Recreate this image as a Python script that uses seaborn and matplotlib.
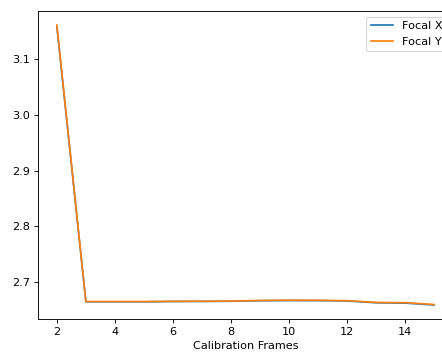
import matplotlib
matplotlib.use("Agg")
import matplotlib.pyplot as plt
import seaborn as sns

# Focal length estimates per number of calibration frames
frames = [2, 3, 4, 5, 6, 7, 8, 9, 10, 11, 12, 13, 14, 15]
focal_x = [3.158, 2.6645, 2.6645, 2.6645, 2.6650, 2.6652, 2.6655, 2.6665,
           2.6668, 2.6667, 2.6660, 2.6628, 2.6622, 2.6588]
focal_y = [3.161, 2.6650, 2.6650, 2.6650, 2.6655, 2.6656, 2.6658, 2.6670,
           2.6673, 2.6672, 2.6666, 2.6634, 2.6630, 2.6597]

DPI = 81
fig = plt.figure(figsize=(442 / DPI, 356 / DPI), dpi=DPI)
# axes run slightly past the right edge of the canvas
ax = fig.add_axes([38 / 442, 37 / 356, 415 / 442, 308 / 356])

sns.lineplot(x=frames, y=focal_x, label="Focal X", color="#1f77b4", ax=ax)
sns.lineplot(x=frames, y=focal_y, label="Focal Y", color="#ff7f0e", ax=ax)

ax.set_xticks([2, 4, 6, 8, 10, 12, 14])
ax.set_yticks([2.7, 2.8, 2.9, 3.0, 3.1])
ax.set_xlabel("Calibration Frames")
ax.set_ylabel("")
ax.legend(loc="upper right")

fig.savefig("out.png", dpi=DPI)
